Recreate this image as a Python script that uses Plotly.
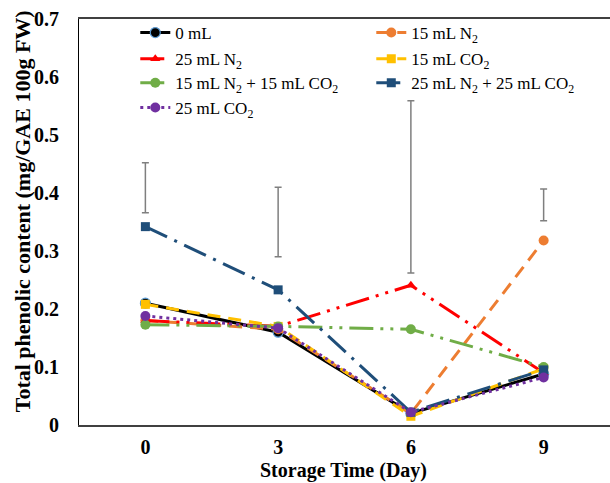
import plotly.graph_objects as go

days = [0, 3, 6, 9]
tick_labels = ["0", "3", "6", "9"]

ctrl_0ml = [0.210, 0.160, 0.020, 0.088]
n2_15 = [0.180, 0.165, 0.020, 0.318]
n2_25 = [0.180, 0.170, 0.241, 0.090]
co2_15 = [0.208, 0.170, 0.015, 0.097]
n2_15_co2_15 = [0.173, 0.170, 0.165, 0.100]
n2_25_co2_25 = [0.342, 0.233, 0.022, 0.095]
co2_25 = [0.188, 0.167, 0.022, 0.082]

err_low = [0.366, 0.290, 0.262, 0.352]
err_high = [0.452, 0.410, 0.559, 0.407]

names = ["0 mL", "15 mL N<sub>2</sub>", "25 mL N<sub>2</sub>", "15 mL CO<sub>2</sub>",
         "15 mL N<sub>2</sub> + 15 mL CO<sub>2</sub>", "25 mL N<sub>2</sub> + 25 mL CO<sub>2</sub>",
         "25 mL CO<sub>2</sub>"]
series = [ctrl_0ml, n2_15, n2_25, co2_15, n2_15_co2_15, n2_25_co2_25, co2_25]
colors = ["#000000", "#ED7D31", "#FF0000", "#FFC000", "#70AD47", "#1F4E79", "#7030A0"]
dashes = ["solid", "13px,8px", "24px,7px,3px,7px,3px,7px", "13px,8px",
          "24px,7px,3px,7px,3px,7px", "24px,8px,3px,8px", "3px,4px"]
symbols = ["circle", "circle", "triangle-up", "square", "circle", "square", "circle"]
legend_ids = ["legend", "legend", "legend2", "legend2", "legend3", "legend3", "legend4"]

FONT = "Liberation Serif, Times New Roman, serif"

fig = go.Figure()
for nm, ys, c, d, s, lg in zip(names, series, colors, dashes, symbols, legend_ids):
    mline = dict(width=1.2, color="#5B9BD5") if nm == "0 mL" else dict(width=0)
    fig.add_trace(go.Scatter(
        x=days, y=ys, name=nm, mode="lines+markers",
        line=dict(color=c, width=3, dash=d),
        marker=dict(symbol=s, size=9 if s != "circle" else 10, color=c, line=mline),
        legend=lg,
    ))

mid = [(a + b) / 2 for a, b in zip(err_low, err_high)]
half = [(b - a) / 2 for a, b in zip(err_low, err_high)]
fig.add_trace(go.Scatter(
    x=days, y=mid, mode="markers", marker=dict(size=0.1, color="rgba(0,0,0,0)"),
    error_y=dict(type="data", array=half, visible=True, color="#7F7F7F", thickness=1.5, width=3.5),
    showlegend=False, hoverinfo="skip",
))

leg_common = dict(orientation="h", entrywidth=191, entrywidthmode="pixels",
                  x=0.106, xanchor="left", yanchor="middle",
                  font=dict(family=FONT, size=17, color="#000000"),
                  bgcolor="rgba(0,0,0,0)", itemclick=False)

fig.update_layout(
    width=610, height=483,
    margin=dict(l=79, r=0, t=19, b=58),
    plot_bgcolor="white", paper_bgcolor="white",
    font=dict(family=FONT, color="#000000"),
    legend=dict(y=0.9655, **leg_common),
    legend2=dict(y=0.901, **leg_common),
    legend3=dict(y=0.842, **leg_common),
    legend4=dict(y=0.781, **leg_common),
    xaxis=dict(
        range=[-1.5, 10.5], tickvals=days, ticktext=tick_labels,
        showgrid=False, zeroline=False, showline=True, linecolor="#404040", linewidth=1.5,
        mirror=True, ticks="", ticklabelstandoff=3, automargin=False,
        tickfont=dict(family=FONT, size=20, color="#000000", weight="bold"),
    ),
    yaxis=dict(
        range=[0, 0.7], dtick=0.1, tickformat="~g",
        showgrid=False, zeroline=False, showline=True, linecolor="#000000", linewidth=1,
        ticks="", ticklabelstandoff=15, automargin=False,
        tickfont=dict(family=FONT, size=20, color="#000000", weight="bold"),
    ),
    annotations=[
        dict(text="<b>Storage Time (Day)</b>", xref="paper", yref="paper", x=0.499, y=-0.111,
             xanchor="center", yanchor="middle", showarrow=False,
             font=dict(family=FONT, size=20, color="#000000")),
        dict(text="<b>Total phenolic content (mg/GAE 100g FW)</b>", xref="paper", yref="paper",
             x=-0.107, y=0.527, xanchor="center", yanchor="middle", textangle=-90, showarrow=False,
             font=dict(family=FONT, size=22, color="#000000")),
    ],
)

fig.write_html("out.html", config={"displayModeBar": False},
               post_script="document.body.style.margin='0';document.body.style.overflow='hidden';")
